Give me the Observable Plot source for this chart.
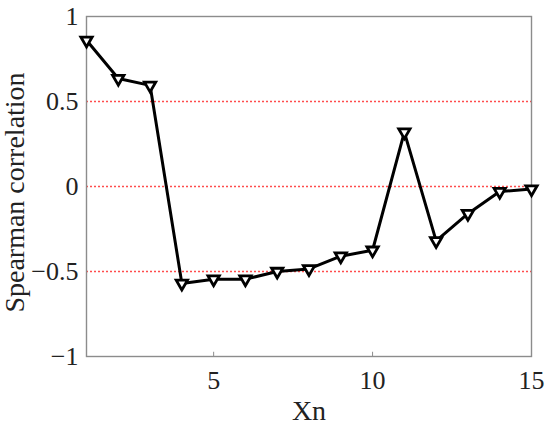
<!DOCTYPE html>
<html><head><meta charset="utf-8">
<script src="https://cdn.jsdelivr.net/npm/d3@7"></script>
<script src="https://cdn.jsdelivr.net/npm/@observablehq/plot@0.6"></script>
<style>
body{margin:0;background:#fff}
</style>
</head><body><div id="chart"></div>
<script>
const xn = [1,2,3,4,5,6,7,8,9,10,11,12,13,14,15];
const spearman = [0.86,0.635,0.595,-0.57,-0.545,-0.545,-0.50,-0.485,-0.41,-0.375,0.32,-0.32,-0.16,-0.03,-0.015];
const xTicks = [5,10,15];
const yTicks = [-1,-0.5,0,0.5,1];
const refLines = [-0.5,0,0.5];
const xLabel = "Xn";
const yLabel = "Spearman correlation";
const data = xn.map((x,i)=>({x, y: spearman[i]}));
const fmt = d => d < 0 ? "\u2212" + String(-d) : String(d);
const FF = "Liberation Serif";
const chart = Plot.plot({
  width: 550, height: 427,
  marginLeft: 86, marginRight: 19, marginTop: 16, marginBottom: 71,
  style: {fontFamily: FF, background: "#fff"},
  x: {domain: [1,15], axis: null},
  y: {domain: [-1,1], axis: null},
  marks: [
    Plot.ruleY(refLines, {stroke: "#ff4d4d", strokeDasharray: "2,2", strokeWidth: 1.4}),
    Plot.frame({stroke: "#8c8c8c", strokeWidth: 1.4}),
    Plot.ruleX([5,10], {y1: -1, y2: -0.975, stroke: "#8c8c8c"}),
    Plot.text(xTicks, {x: d => d, frameAnchor: "bottom", text: fmt, dy: 24, lineAnchor: "middle", textAnchor: "middle", fontSize: 26, fontFamily: FF, fill: "#222"}),
    Plot.text(yTicks, {y: d => d, frameAnchor: "left", text: fmt, dx: -8, lineAnchor: "middle", textAnchor: "end", fontSize: 26, fontFamily: FF, fill: "#222"}),
    Plot.text([xLabel], {frameAnchor: "bottom", text: d => d, dy: 55, lineAnchor: "middle", textAnchor: "middle", fontSize: 28, fontFamily: FF, fill: "#222"}),
    Plot.text([yLabel], {frameAnchor: "left", text: d => d, dx: -71, dy: 6, rotate: -90, lineAnchor: "middle", textAnchor: "middle", fontSize: 28, fontFamily: FF, fill: "#222"}),
    Plot.line(data, {x: "x", y: "y", stroke: "#000", strokeWidth: 3}),
    Plot.dot(data, {x: "x", y: "y", symbol: "triangle", rotate: 180, r: 4.2, fill: "#fff", stroke: "#000", strokeWidth: 2.8})
  ]
});
document.getElementById("chart").appendChild(chart);
</script>
</body></html>
